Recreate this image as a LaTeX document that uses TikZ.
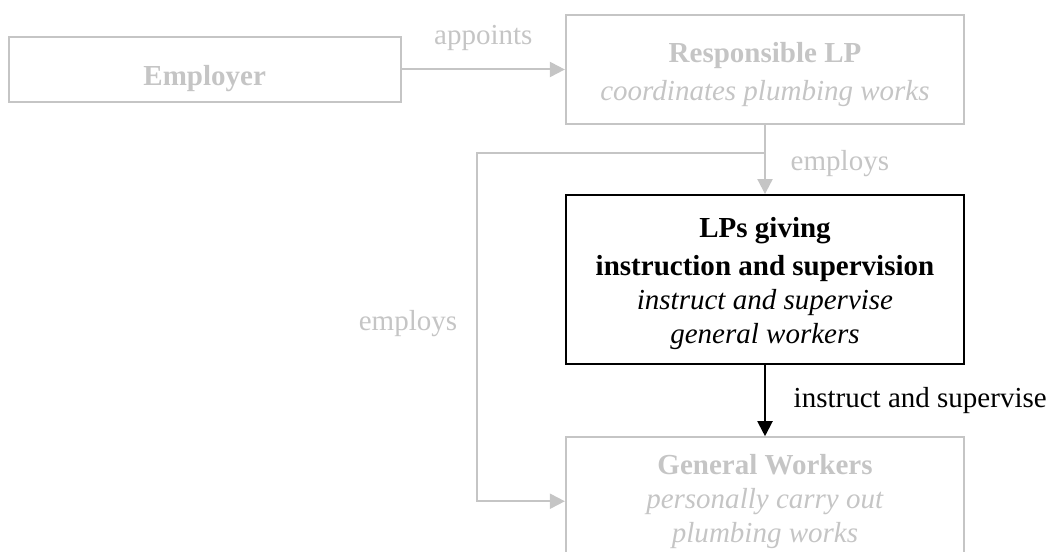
\documentclass[tikz,border=0pt]{standalone}
\usepackage{fontspec}
\setmainfont{Liberation Serif}
\usetikzlibrary{positioning,arrows.meta}
\definecolor{faded}{RGB}{197,197,197}
\tikzset{
    every node/.style={font=\fontsize{8.25pt}{9.7pt}\selectfont},
    greybox/.style={draw=faded,text=faded,line width=0.02cm,minimum width=3.98cm,align=center,inner sep=0pt},
    darkbox/.style={greybox,draw=black,text=black},
    greyarrow/.style={draw=faded,line width=0.02cm,-{Triangle[length=0.15cm,width=0.15cm]}},
    darkarrow/.style={greyarrow,draw=black},
    lbl/.style={text=faded}
}
\begin{document}
\begin{tikzpicture}[x=0.01cm,y=-0.01cm]
            \useasboundingbox (0,0) rectangle (1049,552);
            \clip (0,0) rectangle (1049,552);
            \node[greybox,minimum height=1.09cm] (resp) at (765,69.5) {\rule{0pt}{8.6pt}\textbf{Responsible LP}\\[1pt]\textit{coordinates plumbing works}};
            \node[greybox,minimum width=3.92cm,minimum height=0.64cm,left=1.63cm of resp] (employer) {\rule{0pt}{10.8pt}\textbf{Employer}};
            \node[darkbox,minimum height=1.69cm,below=0.69cm of resp] (lps) {\rule{0pt}{8pt}\textbf{LPs giving}\\[1pt]\textbf{instruction and supervision}\\\textit{instruct and supervise}\\\textit{general workers}};
            \node[greybox,minimum height=1.28cm,below=0.71cm of lps] (gen) {\textbf{General Workers}\\\textit{personally carry out}\\\textit{plumbing works}};
            \coordinate[below=0.28cm of resp] (split);
            \coordinate[left=2.88cm of split] (bend);
            \draw[greyarrow] (employer.east) -- node[lbl,above=0.065cm]{appoints} (resp.west);
            \draw[greyarrow] (resp) -- node[lbl,right=0.13cm,yshift=-0.04cm]{employs} (lps);
            \draw[greyarrow] (split) -- (bend) |- node[lbl,pos=0.245,left=0.07cm]{employs} (gen.west);
            \draw[darkarrow] (lps) -- node[right=0.16cm]{instruct and supervise} (gen);
            % \draw [dotted](0,0) grid[step=50] (1049,552);
        \end{tikzpicture}
\end{document}
